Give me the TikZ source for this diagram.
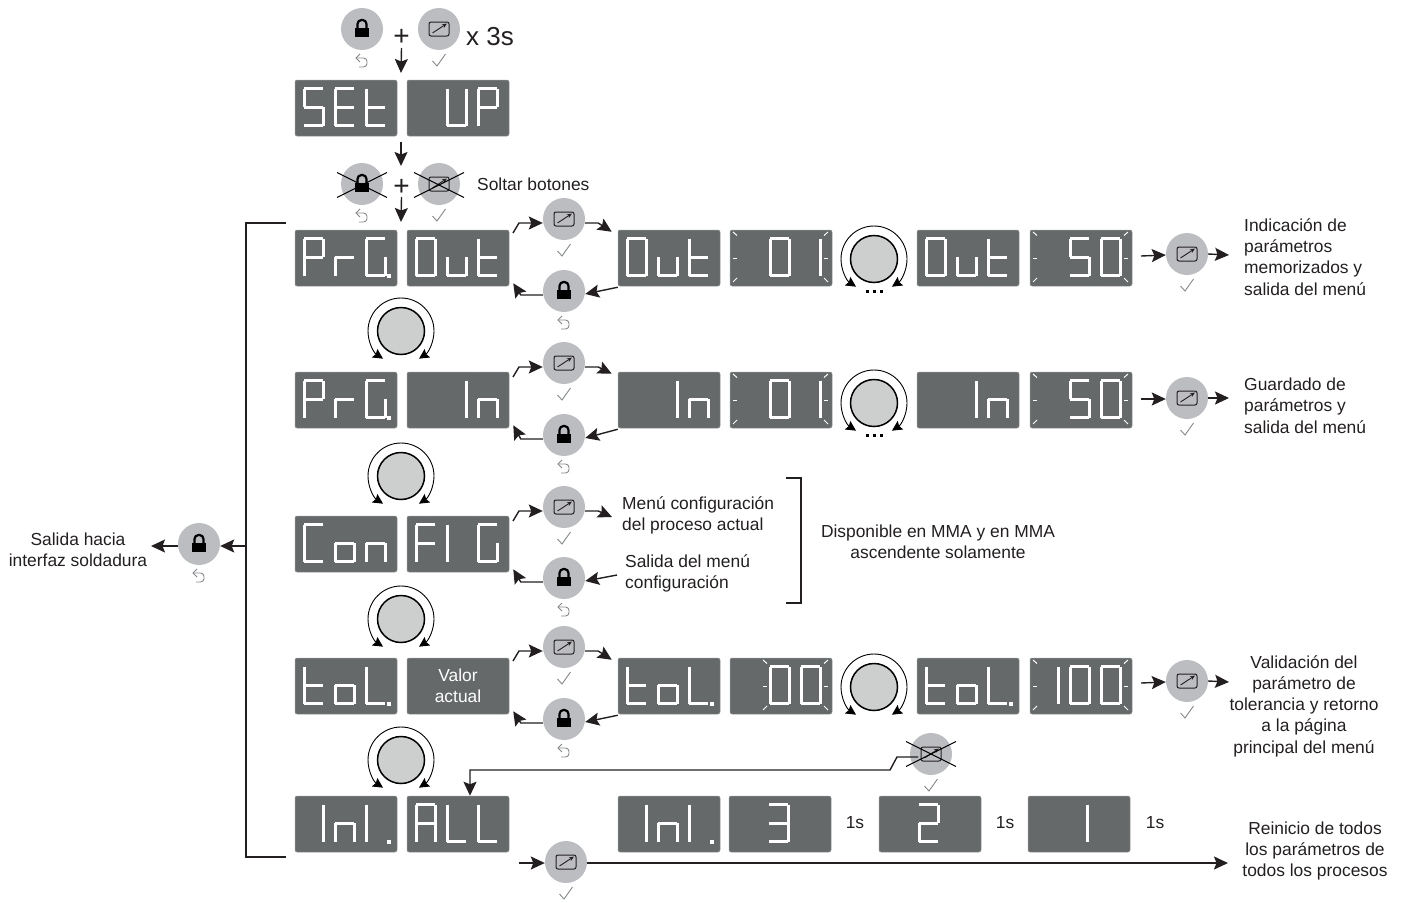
\documentclass[tikz,border=0pt]{standalone}
\usepackage{fontspec}
\setmainfont{Liberation Sans}
\usetikzlibrary{arrows.meta}

\definecolor{ink}{HTML}{231F20}
\definecolor{lcdgray}{HTML}{656969}
\definecolor{btngray}{HTML}{BCBDC0}
\definecolor{capgray}{HTML}{CDCFCE}
\definecolor{markgray}{HTML}{85888A}

\tikzset{
	flow/.style={ink, line width=1.4pt, -{Stealth[length=14pt,width=13pt,inset=2.5pt]}},
	plainline/.style={ink, line width=1.2pt},
	lcdbox/.style={rectangle, fill=lcdgray, draw=lcdgray!70, line width=0.5pt, rounded corners=2pt, minimum width=102pt, minimum height=56pt, inner sep=0pt},
	lcdseg/.style={white, line width=3pt, line cap=square, line join=miter},
	lcdtick/.style={white, line width=1pt},
	btn/.style={circle, fill=btngray, minimum size=42pt, inner sep=0pt},
	knobcap/.style={circle, fill=capgray, draw=black, line width=1.5pt, minimum size=47pt, inner sep=0pt},
	knobarc/.style={black, line width=0.9pt, -{Stealth[length=10pt,width=10pt,inset=1.5pt]}},
	lbl/.style={inner sep=0pt, text=ink, font=\fontsize{17.4}{21.3}\selectfont},
	seg a/.style={insert path={(0,0)--(19,0)}},
	seg b/.style={insert path={(19,0)--(19,18.5)}},
	seg c/.style={insert path={(19,18.5)--(19,37)}},
	seg d/.style={insert path={(0,37)--(19,37)}},
	seg e/.style={insert path={(0,18.5)--(0,37)}},
	seg f/.style={insert path={(0,0)--(0,18.5)}},
	seg g/.style={insert path={(0,18.5)--(19,18.5)}},
	seg p/.style={insert path={(22.5,36.5) rectangle (23.5,37.5)}},
	gl -/.style={},
	gl 0/.style={seg a,seg b,seg c,seg d,seg e,seg f},
	gl 1/.style={seg b,seg c},
	gl 2/.style={seg a,seg b,seg g,seg e,seg d},
	gl 3/.style={seg a,seg b,seg g,seg c,seg d},
	gl 5/.style={seg a,seg f,seg g,seg c,seg d},
	gl A/.style={seg a,seg b,seg c,seg e,seg f,seg g},
	gl C/.style={seg a,seg f,seg e,seg d},
	gl E/.style={seg a,seg f,seg g,seg e,seg d},
	gl F/.style={seg a,seg f,seg g,seg e},
	gl G/.style={seg a,seg f,seg e,seg d,seg c},
	gl L/.style={seg f,seg e,seg d},
	gl P/.style={seg a,seg b,seg g,seg e,seg f},
	gl S/.style={seg a,seg f,seg g,seg c,seg d},
	gl U/.style={seg f,seg e,seg d,seg c,seg b},
	gl l/.style={seg f,seg e},
	gl n/.style={seg g,seg e,seg c},
	gl o/.style={seg g,seg c,seg d,seg e},
	gl r/.style={seg g,seg e},
	gl t/.style={seg f,seg e,seg d,seg g},
	gl u/.style={seg e,seg d,seg c},
	gl G./.style={gl G,seg p},
	gl L./.style={gl L,seg p},
	gl l./.style={gl l,seg p},
}

% name, left, top, three glyphs
\newcommand{\lcd}[6]{
	\node[lcdbox] (#1) at (#2+51,#3+28) {};
	\path[lcdseg, shift={(#2+9,#3+8.5)}, draw, gl #4];
	\path[lcdseg, shift={(#2+40,#3+8.5)}, draw, gl #5];
	\path[lcdseg, shift={(#2+71,#3+8.5)}, draw, gl #6];
}
% left, top, offset of the left ticks
\newcommand{\flash}[3]{
	\begin{scope}[shift={(#1,#2)}]
		\draw[lcdtick] (#3+3,2) -- (#3+7,5.5);
		\draw[lcdtick] (#3+3,28) -- (#3+7,28);
		\draw[lcdtick] (#3+3,52) -- (#3+7,48);
		\draw[lcdtick] (98,2) -- (94,5.5);
		\draw[lcdtick] (94,28) -- (98,28);
		\draw[lcdtick] (94,48) -- (98,52);
	\end{scope}
}
\newcommand{\editicon}[2]{
	\begin{scope}[shift={(#1,#2)}]
		\draw[ink, line width=1pt, rounded corners=2pt] (-10,-7) rectangle (10,7);
		\draw[ink, line width=0.9pt, -{Stealth[length=5pt,width=4pt]}] (-6.5,4) -- (8,-5.5);
	\end{scope}
}
\newcommand{\lockicon}[2]{
	\begin{scope}[shift={(#1,#2)}]
		\fill[black] (-7,-1) rectangle (7,8);
		\draw[black, line width=2.2pt, rounded corners=4pt] (-4.5,0) |- (4.5,-9) -- (4.5,0);
	\end{scope}
}
\newcommand{\tickmark}[2]{
	\draw[markgray, line width=0.9pt] (#1-6.5,#2+1) -- (#1-2,#2+6) -- (#1+6.5,#2-6);
}
\newcommand{\undomark}[2]{
	\begin{scope}[shift={(#1,#2)}]
		\draw[markgray, line width=0.9pt, rounded corners=3.5pt] (-6,-3) -- (5,-3) -- (5,6) -- (-3,6);
		\draw[markgray, line width=0.9pt] (-2,-7) -- (-6,-3) -- (-2,1);
	\end{scope}
}
\newcommand{\editbtn}[3]{
	\node[btn] (#1) at (#2,#3) {};
	\editicon{#2}{#3}
	\tickmark{#2}{#3+31}
}
\newcommand{\lockbtn}[3]{
	\node[btn] (#1) at (#2,#3) {};
	\lockicon{#2}{#3}
	\undomark{#2}{#3+32}
}
\newcommand{\crossout}[2]{
	\draw[black, line width=1pt] (#1-25,#2-12.5) -- (#1+25,#2+12.5);
	\draw[black, line width=1pt] (#1-25,#2+12.5) -- (#1+25,#2-12.5);
}
\newcommand{\knob}[3]{
	\node[knobcap] (#1) at (#2,#3) {};
	\draw[knobarc] ([shift={(0,-33)}]#1.center) arc[start angle=90,end angle=237,radius=33pt];
	\draw[knobarc] ([shift={(0,-33)}]#1.center) arc[start angle=90,end angle=-57,radius=33pt];
}
\newcommand{\dotsrow}[2]{
	\fill[black] (#1-8.5,#2-1.5) rectangle ++(3,3);
	\fill[black] (#1-1.5,#2-1.5) rectangle ++(3,3);
	\fill[black] (#1+5.5,#2-1.5) rectangle ++(3,3);
}
% box, edit button, lock button, next box
\newcommand{\looparrows}[4]{
	\draw[flow] ([shift={(-51,14)}]#2.center) -- ++(6,-10) -- ([shift={(0,4)}]#2.west);
	\draw[flow] ([shift={(0,4)}]#2.east) -- ++(13,0) -- ([shift={(-6,2)}]#4.north west);
	\draw[flow] ([shift={(0,1)}]#4.south west) -- ([shift={(0,3)}]#3.east);
	\draw[flow] ([shift={(0,4)}]#3.west) -- ++(-22,0) -- ([shift={(4,-3)}]#1.south east);
}
% edit button, free ends
\newcommand{\passarrows}[3]{
	\coordinate (#1in) at (#2,#3+1);
	\coordinate (#1out) at (#2+88,#3);
	\draw[flow] (#1in) -- ([shift={(0,1)}]#1.west);
	\draw[flow] (#1.east) -- (#1out);
}

\begin{document}
\begin{tikzpicture}[x=1pt, y=-1pt]
	\useasboundingbox (0,0) rectangle (1407,902);

	% start of the menu
	\lockbtn{lk0}{362}{29}
	\editbtn{ed0}{439}{29}
	\node[lbl, font=\fontsize{28}{28}\selectfont] (plus0) at (401.5,37) {+};
	\node[lbl, anchor=west, font=\fontsize{26}{26}\selectfont] (xthree) at (466,37) {x 3s};
	\lcd{set}{295}{80}{S}{E}{t}
	\lcd{up}{407}{80}{-}{U}{P}
	\coordinate (a0) at (401,73);
	\draw[flow] (plus0) ++(0,11) -- (a0);
	\coordinate (a1) at (401,142);
	\coordinate (a2) at (401,166);
	\draw[flow] (a1) -- (a2);

	\lockbtn{lk1}{362}{184}
	\editbtn{ed1}{439}{184}
	\crossout{362}{185}
	\crossout{439}{185}
	\node[lbl, font=\fontsize{28}{28}\selectfont] (plus1) at (401.5,187) {+};
	\node[lbl, anchor=west] (soltar) at (477,184) {Soltar botones};
	\coordinate (a3) at (401,222);
	\draw[flow] (plus1) ++(0,10) -- (a3);

	% rows
	\lcd{prg}{295}{230}{P}{r}{G.}
	\lcd{out}{407}{230}{0}{u}{t}
	\lcd{outa}{618}{230}{0}{u}{t}
	\lcd{outb}{730}{230}{-}{0}{1}
	\flash{730}{230}{0}
	\lcd{outc}{917}{230}{0}{u}{t}
	\lcd{outd}{1030}{230}{-}{5}{0}
	\flash{1030}{230}{0}
	\editbtn{ed2}{564}{219}
	\lockbtn{lk2}{564}{291}
	\looparrows{out}{ed2}{lk2}{outa}
	\knob{kn1}{874}{259}
	\dotsrow{874}{291}
	\editbtn{ed3}{1187}{254}
	\passarrows{ed3}{1141}{255}
	\node[lbl, anchor=west, align=left] (tout) at (1244,257) {Indicación de\\parámetros\\memorizados y\\salida del menú};
	\knob{kn2}{401}{331}

	\lcd{prgb}{295}{372}{P}{r}{G.}
	\lcd{in}{407}{372}{-}{1}{n}
	\lcd{ina}{618}{372}{-}{1}{n}
	\lcd{inb}{730}{372}{-}{0}{1}
	\flash{730}{372}{0}
	\lcd{inc}{917}{372}{-}{1}{n}
	\lcd{ind}{1030}{372}{-}{5}{0}
	\flash{1030}{372}{0}
	\editbtn{ed4}{564}{363}
	\lockbtn{lk4}{564}{435}
	\looparrows{in}{ed4}{lk4}{ina}
	\knob{kn3}{874}{403}
	\dotsrow{874}{435}
	\editbtn{ed5}{1187}{398}
	\passarrows{ed5}{1141}{398}
	\node[lbl, anchor=west, align=left] (tin) at (1244,405.5) {Guardado de\\parámetros y\\salida del menú};
	\knob{kn4}{401}{476}

	\lcd{con}{295}{516}{C}{o}{n}
	\lcd{fig}{407}{516}{F}{l}{G}
	\editbtn{ed6}{564}{507}
	\lockbtn{lk6}{564}{578}
	\coordinate (m1) at (612,517);
	\coordinate (m2) at (617,575);
	\draw[flow] ([shift={(-51,14)}]ed6.center) -- ++(6,-10) -- ([shift={(0,4)}]ed6.west);
	\draw[flow] ([shift={(0,4)}]ed6.east) -- ++(13,0) -- (m1);
	\draw[flow] (m2) -- ([shift={(0,3)}]lk6.east);
	\draw[flow] ([shift={(0,4)}]lk6.west) -- ++(-22,0) -- ([shift={(4,-3)}]fig.south east);
	\node[lbl, anchor=west, align=left] (tconf) at (622,515.5) {Menú configuración\\del proceso actual};
	\node[lbl, anchor=west, align=left] (tsal) at (625,573.5) {Salida del menú\\configuración};
	\coordinate (bk1) at (786,478);
	\coordinate (bk2) at (786,603);
	\draw[plainline] (bk1) -- ++(15,0) |- (bk2);
	\node[lbl, align=center] (tmma) at (938,542) {Disponible en MMA y en MMA\\ascendente solamente};
	\knob{kn5}{401}{619}

	\lcd{tol}{295}{658}{t}{o}{L.}
	\node[lcdbox, text=white, align=center, font=\fontsize{17.4}{21.3}\selectfont] (val) at (458,686) {Valor\\actual};
	\lcd{tola}{618}{658}{t}{o}{L.}
	\lcd{tolb}{730}{658}{-}{0}{0}
	\flash{730}{658}{30}
	\lcd{tolc}{917}{658}{t}{o}{L.}
	\lcd{told}{1030}{658}{1}{0}{0}
	\flash{1030}{658}{0}
	\editbtn{ed7}{564}{647}
	\lockbtn{lk7}{564}{719}
	\looparrows{val}{ed7}{lk7}{tola}
	\knob{kn6}{874}{687}
	\editbtn{ed8}{1187}{681}
	\passarrows{ed8}{1141}{682}
	\node[lbl, align=center] (ttol) at (1304,706) {Validación del\\parámetro de\\tolerancia y retorno\\a la página\\principal del menú};
	\knob{kn7}{401}{760}

	\lcd{ini}{295}{796}{1}{n}{l.}
	\lcd{all}{407}{796}{A}{L}{L}
	\lcd{inia}{618}{796}{1}{n}{l.}
	\lcd{three}{729}{796}{-}{3}{-}
	\lcd{two}{879}{796}{-}{2}{-}
	\lcd{one}{1028}{796}{-}{1}{-}
	\node[lbl] (s3) at (855,823) {1s};
	\node[lbl] (s2) at (1005,823) {1s};
	\node[lbl] (s1) at (1155,823) {1s};
	\editbtn{ed9}{931}{754}
	\crossout{931}{754}
	\draw[flow] ([shift={(-13,3)}]ed9.center) -- ++(-21,0) -- ++(-7,13) -| (all.north -| 470,795);
	\editbtn{ed10}{566}{862}
	\coordinate (c1) at (519,863);
	\coordinate (c2) at (1228,863);
	\draw[flow] (c1) -- ([shift={(0,1)}]ed10.west);
	\draw[flow] ([shift={(0,1)}]ed10.east) -- (c2);
	\node[lbl, align=center] (treset) at (1315,851) {Reinicio de todos\\los parámetros de\\todos los procesos};

	% exit on the left
	\coordinate (br1) at (286,223);
	\coordinate (br2) at (286,857);
	\coordinate (brm) at (246,546);
	\draw[plainline] (br1) -- ++(-40,0) |- (br2);
	\lockbtn{lk9}{199}{544}
	\draw[flow] (brm) -- ([shift={(0,2)}]lk9.east);
	\node[lbl, align=center] (texit) at (78,550) {Salida hacia\\interfaz soldadura};
	\coordinate (ex) at (151,546);
	\draw[flow] ([shift={(0,2)}]lk9.west) -- (ex);
\end{tikzpicture}
\end{document}
